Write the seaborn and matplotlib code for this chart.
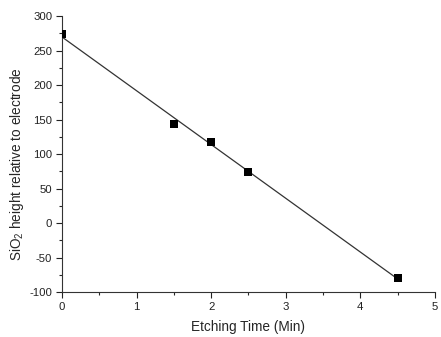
import numpy as np
import pandas as pd
import matplotlib
matplotlib.use('Agg')
import matplotlib.pyplot as plt
import seaborn as sns
from matplotlib.ticker import MultipleLocator

etch_time = [0, 1.5, 2, 2.5, 4.5]
sio2_height = [274, 144, 117, 74, -79]

df = pd.DataFrame({'Etching Time (Min)': etch_time,
                   'height': sio2_height})

sns.set_style('ticks')
plt.rcParams['font.family'] = ['Liberation Sans', 'DejaVu Sans']
plt.rcParams['mathtext.fontset'] = 'custom'
plt.rcParams['mathtext.rm'] = 'Liberation Sans'
plt.rcParams['axes.unicode_minus'] = False

fig = plt.figure(figsize=(4.41, 3.37), dpi=100)
ax = fig.add_axes([0.1406, 0.1335, 0.8454, 0.819])

sns.regplot(data=df, x='Etching Time (Min)', y='height', ci=None, ax=ax,
            marker='s',
            scatter_kws={'color': 'black', 's': 30, 'linewidths': 0,
                         'alpha': 1, 'zorder': 3},
            line_kws={'color': '#333333', 'linewidth': 0.9})

ax.set_xlim(0, 5)
ax.set_ylim(-100, 300)
ax.xaxis.set_major_locator(MultipleLocator(1))
ax.xaxis.set_minor_locator(MultipleLocator(0.5))
ax.yaxis.set_major_locator(MultipleLocator(50))
ax.yaxis.set_minor_locator(MultipleLocator(25))
ax.tick_params(which='major', length=4, width=0.8, labelsize=8.2,
               colors='#222222', pad=3)
ax.tick_params(which='minor', length=2, width=0.8)
for side in ['top', 'right']:
    ax.spines[side].set_visible(False)
for side in ['left', 'bottom']:
    ax.spines[side].set_linewidth(0.8)
    ax.spines[side].set_color('#333333')

ax.set_xlabel('Etching Time (Min)', fontsize=9.8, labelpad=6)
ax.set_ylabel('SiO$_2$ height relative to electrode', fontsize=9.8)
ax.yaxis.set_label_coords(-0.097, 0.464)

fig.savefig('out.png', dpi=100)
